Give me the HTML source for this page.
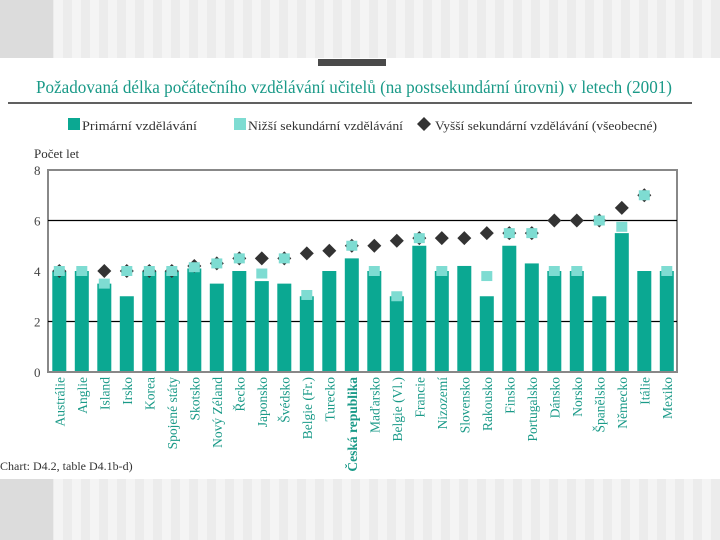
<!DOCTYPE html>
<html><head><meta charset="utf-8"><style>
html,body{margin:0;padding:0;width:720px;height:540px;overflow:hidden;}
body{background:repeating-linear-gradient(90deg,#f4f4f4 0 9px,#ececec 9px 18px);font-family:"Liberation Serif",serif;}
</style></head><body>
<svg width="720" height="540" xmlns="http://www.w3.org/2000/svg">
<rect x="0" y="0" width="53" height="540" fill="#dcdcdc"/>
<rect x="0" y="58" width="720" height="421" fill="#fff"/>
<rect x="318" y="59" width="68" height="7" fill="#4a4a4a"/>
<text x="36" y="93" font-size="17.5" fill="#1a9a88" textLength="636" lengthAdjust="spacingAndGlyphs">Požadovaná délka počátečního vzdělávání učitelů (na postsekundární úrovni) v letech (2001)</text>
<line x1="8" y1="103" x2="692" y2="103" stroke="#000" stroke-width="1.3"/>
<g font-size="13" fill="#333">
<rect x="68" y="118" width="12" height="12" fill="#0ba892"/>
<text x="82" y="130" textLength="115" lengthAdjust="spacingAndGlyphs">Primární vzdělávání</text>
<rect x="234" y="118" width="12" height="12" fill="#7edcd2"/>
<text x="248" y="130" textLength="155" lengthAdjust="spacingAndGlyphs">Nižší sekundární vzdělávání</text>
<path d="M424,117 L431,124 L424,131 L417,124 Z" fill="#333"/>
<text x="435" y="130" textLength="222" lengthAdjust="spacingAndGlyphs">Vyšší sekundární vzdělávání (všeobecné)</text>
</g>
<text x="34" y="158" font-size="13" fill="#333">Počet let</text>
<g id="plot"></g>
<text x="0" y="470" font-size="12" fill="#333">Chart: D4.2, table D4.1b-d)</text>
</svg>
<script>
const categories=["Austrálie","Anglie","Island","Irsko","Korea","Spojené státy","Skotsko","Nový Zéland","Řecko","Japonsko","Švédsko","Belgie (Fr.)","Turecko","Česká republika","Maďarsko","Belgie (Vl.)","Francie","Nizozemí","Slovensko","Rakousko","Finsko","Portugalsko","Dánsko","Norsko","Španělsko","Německo","Itálie","Mexiko"];
const primary=[4,4,3.5,3,4,4,4.1,3.5,4,3.6,3.5,3,4,4.5,4,3,5,4,4.2,3,5,4.3,4,4,3,5.5,4,4];
const lowerSec=[4,4,3.5,4,4,4,4.15,4.3,4.5,3.9,4.5,3.05,null,5,4,3,5.3,4,null,3.8,5.5,5.5,4,4,6,5.75,7,4];
const upperSec=[4,null,4,4,4,4,4.2,4.3,4.5,4.5,4.5,4.7,4.8,5,5,5.2,5.3,5.3,5.3,5.5,5.5,5.5,6,6,6,6.5,7,null];
const yTicks=[0,2,4,6,8];
const gridVals=[2,6];
const NS="http://www.w3.org/2000/svg";
const L=48,R=677,T=170,B=372,ymax=8;
const y=v=>B-(v/ymax)*(B-T);
const step=22.5,x0=59.3;
const x=i=>x0+i*step;
const g=document.getElementById('plot');
function el(tag,attrs){const e=document.createElementNS(NS,tag);for(const k in attrs)e.setAttribute(k,attrs[k]);g.appendChild(e);return e;}
const frame=el('rect',{x:L,y:T,width:R-L,height:B-T,fill:'#fff',stroke:'#888','stroke-width':2});


gridVals.forEach(v=>{const ln=el('line',{x1:L,x2:R,y1:y(v),y2:y(v),stroke:'#000','stroke-width':1.2});

});
yTicks.forEach(v=>{const t=el('text',{x:34,y:y(v)+5,'font-size':13,fill:'#444'});t.textContent=v;

});
categories.forEach((c,i)=>{
 const b=el('rect',{x:x(i)-7,y:y(primary[i]),width:14,height:B-y(primary[i]),fill:'#0ba892'});
 
 
});
categories.forEach((c,i)=>{
 if(upperSec[i]!=null){const cx=x(i),cy=y(upperSec[i]);
 const d=el('path',{d:`M${cx},${cy-7} L${cx+7},${cy} L${cx},${cy+7} L${cx-7},${cy} Z`,fill:'#333'});
 
 }
 if(lowerSec[i]!=null){const s=el('rect',{x:x(i)-5.5,y:y(lowerSec[i])-5,width:11,height:10,fill:'#7edcd2'});
 
 }
});
const base=el('line',{x1:L,x2:R,y1:B,y2:B,stroke:'#888','stroke-width':2});


categories.forEach((c,i)=>{
 const t=el('text',{x:0,y:0,'font-size':13.5,fill:'#1a9a88','text-anchor':'end',transform:`translate(${x(i)+5},377) rotate(-90)`});
 if(c==="Česká republika")t.setAttribute('font-weight','bold');
 t.textContent=c;
 
 
});
</script>
</body></html>
